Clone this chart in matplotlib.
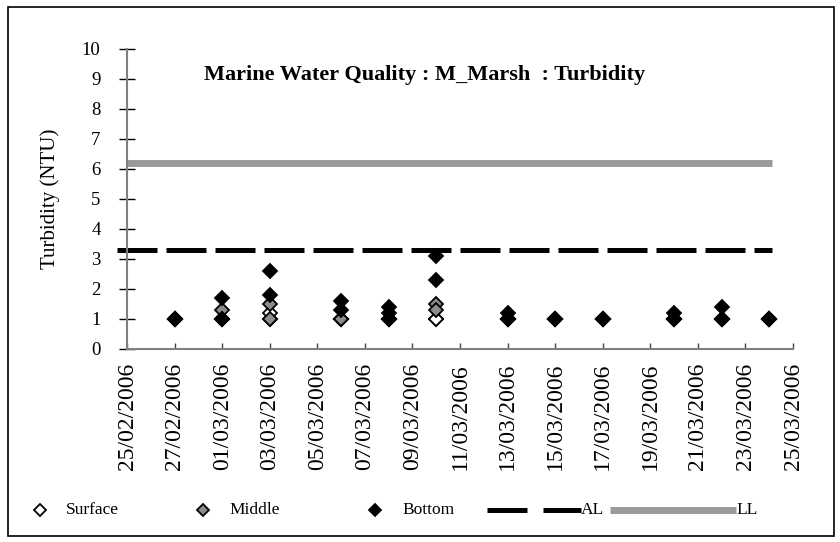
import datetime as dt
import matplotlib
matplotlib.use("Agg")
import matplotlib.pyplot as plt
import matplotlib.dates as mdates
from matplotlib.lines import Line2D
from matplotlib.patches import Rectangle

plt.rcParams['font.family'] = ['Liberation Serif', 'DejaVu Serif']

# sampling dates (day, month) in 2006 and readings per depth (NTU)
sample_days = [(27, 2), (1, 3), (3, 3), (6, 3), (8, 3), (10, 3),
               (13, 3), (15, 3), (17, 3), (20, 3), (22, 3), (24, 3)]
surface = [[1.0, 1.0], [1.0, 1.0], [1.0, 1.2], [1.0, 1.0], [1.0, 1.0], [1.0, 1.0],
           [1.0, 1.0], [1.0, 1.0], [1.0, 1.0], [1.0, 1.0], [1.0, 1.0], [1.0, 1.0]]
middle = [[1.0, 1.0], [1.3, 1.0], [1.5, 1.0], [1.0, 1.0], [1.0, 1.0], [1.5, 1.3],
          [1.0, 1.0], [1.0, 1.0], [1.0, 1.0], [1.0, 1.0], [1.0, 1.0], [1.0, 1.0]]
bottom = [[1.0, 1.0], [1.7, 1.0], [2.6, 1.8], [1.6, 1.3], [1.4, 1.2, 1.0], [3.1, 2.3],
          [1.2, 1.0], [1.0, 1.0], [1.0, 1.0], [1.2, 1.0], [1.4, 1.0], [1.0, 1.0]]

al_level = 3.3
ll_level = 6.2
line_start = dt.datetime(2006, 2, 24, 14)
line_end = dt.datetime(2006, 3, 24, 3)

dates = [dt.datetime(2006, m, d) for d, m in sample_days]

fig = plt.figure(figsize=(8.4, 5.42), dpi=100)
ax = fig.add_axes([0.1512, 0.3561, 0.7929, 0.5535])

# outer frame
fig.add_artist(Rectangle((0.0095, 0.011), 0.983, 0.976, transform=fig.transFigure,
                         fill=False, edgecolor='black', linewidth=1.2))

# limit lines
ax.plot([dt.datetime(2006, 2, 25), line_end], [ll_level, ll_level], color='#9a9a9a',
        linewidth=5, solid_capstyle='butt', zorder=2)
ax.plot([line_start, line_end], [al_level, al_level], color='black', linewidth=3.6,
        dashes=(8, 1.8), solid_capstyle='butt', dash_capstyle='butt', zorder=2, clip_on=False)


def flat(groups):
    xs, ys = [], []
    for d, vals in zip(dates, groups):
        for v in vals:
            xs.append(d)
            ys.append(v)
    return xs, ys


ms = 7.6
for groups, fc in [(surface, 'white'), (middle, '#8c8c8c'), (bottom, 'black')]:
    xs, ys = flat(groups)
    ax.plot(xs, ys, linestyle='none', marker='D', markersize=ms, markerfacecolor=fc,
            markeredgecolor='black', markeredgewidth=1.3, zorder=3)

ax.set_xlim(dt.datetime(2006, 2, 25), dt.datetime(2006, 3, 25))
ax.set_ylim(0, 10)
ax.set_yticks(range(0, 11))
ax.set_xticks([dt.datetime(2006, 2, 25) + dt.timedelta(days=2 * i) for i in range(15)])
ax.xaxis.set_major_formatter(mdates.DateFormatter('%d/%m/%Y'))

for s in ['top', 'right']:
    ax.spines[s].set_visible(False)
for s in ['left', 'bottom']:
    ax.spines[s].set_color('#808080')
    ax.spines[s].set_linewidth(1.5)

ax.tick_params(axis='y', direction='inout', length=12, width=1, color='black',
               labelsize=13.5, pad=13)
ax.tick_params(axis='x', direction='in', length=4.5, width=1, color='#404040',
               labelsize=17, pad=10, labelrotation=90)

ax.set_ylabel('Turbidity (NTU)', fontsize=15)
ax.yaxis.set_label_coords(-0.1, 0.5)

fig.text(425 / 840, 1 - 75 / 542, 'Marine Water Quality : M_Marsh  : Turbidity',
         ha='center', va='center', fontsize=16, fontweight='bold')

# legend row, drawn by hand to match the spacing of the original
ly = 1 - 510 / 542
W = 840.0
marker_items = [('Surface', 'white', 40, 66), ('Middle', '#8c8c8c', 203, 229),
                ('Bottom', 'black', 375, 402)]
for name, fc, mx, tx in marker_items:
    fig.add_artist(Line2D([mx / W], [ly], transform=fig.transFigure, linestyle='none',
                          marker='D', markersize=6, markerfacecolor=fc,
                          markeredgecolor='black', markeredgewidth=1.3))
    fig.text(tx / W, ly, name, ha='left', va='center', fontsize=12.5)

fig.add_artist(Line2D([487 / W, 527 / W], [ly, ly], transform=fig.transFigure,
                      color='black', linewidth=3.6, solid_capstyle='butt'))
fig.add_artist(Line2D([543 / W, 581 / W], [ly, ly], transform=fig.transFigure,
                      color='black', linewidth=3.6, solid_capstyle='butt'))
fig.text(581 / W, ly, 'AL', ha='left', va='center', fontsize=12.5)
fig.add_artist(Line2D([610 / W, 736 / W], [ly, ly], transform=fig.transFigure,
                      color='#9a9a9a', linewidth=5, solid_capstyle='butt'))
fig.text(736 / W, ly, 'LL', ha='left', va='center', fontsize=12.5)

fig.savefig('out.png', dpi=100)
